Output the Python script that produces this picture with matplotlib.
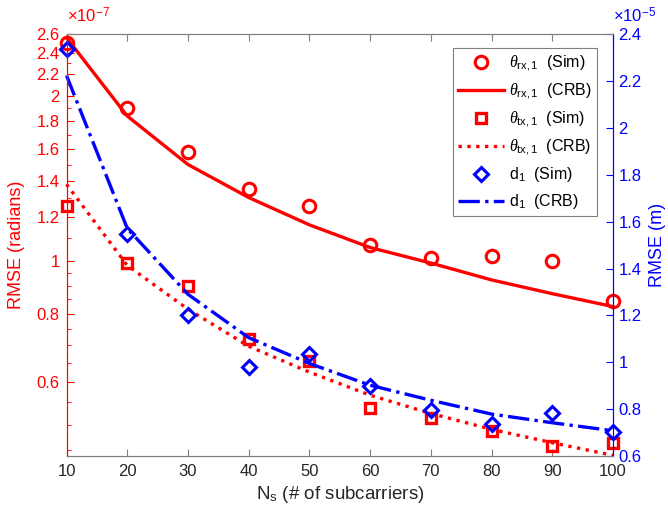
import numpy as np
import matplotlib
matplotlib.use('Agg')
import matplotlib.pyplot as plt
from matplotlib.ticker import FixedLocator, NullFormatter

plt.rcParams['font.family'] = ['Liberation Sans', 'DejaVu Sans']
plt.rcParams['mathtext.fontset'] = 'custom'
plt.rcParams['mathtext.rm'] = 'Liberation Sans'
plt.rcParams['mathtext.it'] = 'Liberation Serif:italic'

# number of subcarriers
Ns = [10, 20, 30, 40, 50, 60, 70, 80, 90, 100]

# angle RMSE, in units of 1e-7 rad
rx_sim = [2.50, 1.90, 1.58, 1.355, 1.26, 1.068, 1.01, 1.021, 0.997, 0.843]
rx_crb = [2.56, 1.84, 1.50, 1.305, 1.163, 1.057, 0.99, 0.922, 0.870, 0.824]
tx_sim = [1.26, 0.99, 0.897, 0.718, 0.654, 0.538, 0.514, 0.488, 0.458, 0.464]
tx_crb = [1.38, 0.98, 0.815, 0.697, 0.625, 0.567, 0.525, 0.491, 0.464, 0.44]

# distance RMSE, in units of 1e-5 m
d_sim = [2.335, 1.547, 1.20, 0.98, 1.034, 0.899, 0.797, 0.736, 0.782, 0.702]
d_crb = [2.223, 1.571, 1.29, 1.105, 0.995, 0.902, 0.838, 0.779, 0.742, 0.708]

left_ticks = [0.6, 0.8, 1, 1.2, 1.4, 1.6, 1.8, 2, 2.2, 2.4, 2.6]
left_minor = [0.45, 0.5, 0.55, 0.65, 0.7, 0.75, 0.85, 0.9, 0.95,
              1.1, 1.3, 1.5, 1.7, 1.9, 2.1, 2.3, 2.5]
right_ticks = [0.6, 0.8, 1, 1.2, 1.4, 1.6, 1.8, 2, 2.2, 2.4]

red = (1, 0, 0)
blue = (0, 0, 1)
frame = '#808080'
txt = '#262626'

fig = plt.figure(figsize=(6.68, 5.13), dpi=100)
ax = fig.add_axes([0.0996, 0.111, 0.8181, 0.8226])
ax2 = ax.twinx()

h1, = ax.plot(Ns, rx_sim, 'o', color=red, mfc='none', ms=9, mew=2.2, ls='none')
h2, = ax.plot(Ns, rx_crb, '-', color=red, lw=2.4)
h3, = ax.plot(Ns, tx_sim, 's', color=red, mfc='none', ms=6.5, mew=2.4, ls='none')
h4, = ax.plot(Ns, tx_crb, ':', color=red, lw=2.4)
h5, = ax2.plot(Ns, d_sim, 'D', color=blue, mfc='none', ms=7.5, mew=2.2, ls='none')
h6, = ax2.plot(Ns, d_crb, '-.', color=blue, lw=2.4)
for h in (h1, h2, h3, h4, h5, h6):
    h.set_clip_on(False)

ax.set_xlim(10, 100)
ax.set_xticks(Ns)
ax.set_yscale('log')
ax.set_ylim(0.4387, 2.6)
ax.yaxis.set_major_locator(FixedLocator(left_ticks))
ax.set_yticklabels([f'{v:g}' for v in left_ticks])
ax.yaxis.set_minor_locator(FixedLocator(left_minor))
ax.yaxis.set_minor_formatter(NullFormatter())

ax2.set_ylim(0.6, 2.4)
ax2.set_yticks(right_ticks)
ax2.set_yticklabels([f'{v:g}' for v in right_ticks])

ax.tick_params(axis='x', direction='in', top=True, colors=frame, labelcolor=txt,
               labelsize=12, length=5, pad=6)
ax.tick_params(axis='y', which='both', direction='in', colors=red, labelsize=12, pad=5)
ax.tick_params(axis='y', which='major', length=5)
ax.tick_params(axis='y', which='minor', length=3)
ax2.tick_params(axis='y', direction='in', colors=blue, labelsize=12, length=5, pad=4)

for a in (ax, ax2):
    a.spines['top'].set_color(frame)
    a.spines['bottom'].set_color(frame)
    a.spines['left'].set_color(red)
    a.spines['right'].set_color(blue)

ax.set_xlabel(r'N$_{\mathrm{s}}$ (# of subcarriers)', fontsize=13.5, color=txt, labelpad=3)
ax.set_ylabel('RMSE (radians)', fontsize=13, color=red, labelpad=8)
ax2.set_ylabel('RMSE (m)', fontsize=13, color=blue, labelpad=5)

ax.text(0, 1.02, r'$\times$10$^{-7}$', transform=ax.transAxes, color=red,
        fontsize=12, ha='left', va='bottom')
ax2.text(1.0, 1.02, r'$\times$10$^{-5}$', transform=ax2.transAxes, color=blue,
         fontsize=12, ha='left', va='bottom')

labels = [r'$\theta_{\mathrm{rx,1}}$  (Sim)', r'$\theta_{\mathrm{rx,1}}$  (CRB)',
          r'$\theta_{\mathrm{tx,1}}$  (Sim)', r'$\theta_{\mathrm{tx,1}}$  (CRB)',
          r'd$_{\mathrm{1}}$  (Sim)', r'd$_{\mathrm{1}}$  (CRB)']
leg = ax2.legend([h1, h2, h3, h4, h5, h6], labels, loc='upper right',
                 bbox_to_anchor=(0.985, 0.985), fontsize=11.5, handlelength=2.9,
                 handletextpad=0.3, labelspacing=0.5, borderpad=0.3,
                 fancybox=False, framealpha=1, edgecolor=frame)
leg.get_frame().set_linewidth(0.8)

fig.savefig('out.png', dpi=100)
